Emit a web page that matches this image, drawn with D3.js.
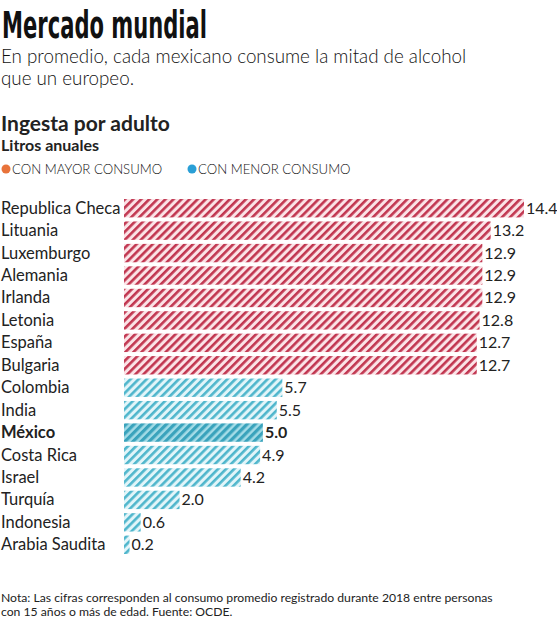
<!DOCTYPE html>
<html>
<head>
<meta charset="utf-8">
<script src="https://cdn.jsdelivr.net/npm/d3@7"></script>
<style>
  body { margin: 0; background: #fff; }
  text { font-family: Lato, "Open Sans", sans-serif; fill: #222; }
</style>
</head>
<body>
<svg width="557" height="620"></svg>
<script>
// data
const countries = ["Republica Checa", "Lituania", "Luxemburgo", "Alemania", "Irlanda", "Letonia", "España", "Bulgaria",
  "Colombia", "India", "México", "Costa Rica", "Israel", "Turquía", "Indonesia", "Arabia Saudita"];
const litros = [14.4, 13.2, 12.9, 12.9, 12.9, 12.8, 12.7, 12.7, 5.7, 5.5, 5.0, 4.9, 4.2, 2.0, 0.6, 0.2];
const grupo = ["mayor", "mayor", "mayor", "mayor", "mayor", "mayor", "mayor", "mayor",
  "menor", "menor", "menor", "menor", "menor", "menor", "menor", "menor"];
const legendLabels = ["CON MAYOR CONSUMO", "CON MENOR CONSUMO"];

const data = countries.map((c, i) => ({ name: c, value: litros[i], group: grupo[i] }));

const svg = d3.select("svg");

// hatch patterns
const defs = svg.append("defs");
function hatch(id, bg, fg, size, w) {
  const p = defs.append("pattern")
    .attr("id", id)
    .attr("patternUnits", "userSpaceOnUse")
    .attr("width", size)
    .attr("height", size)
    .attr("patternTransform", "rotate(45)");
  p.append("rect").attr("width", size).attr("height", size).attr("fill", bg);
  p.append("rect").attr("width", w).attr("height", size).attr("fill", fg);
}
hatch("hRed", "#fbe3e7", "#c13650", 5.7, 2.6);
hatch("hBlue", "#e2f5f9", "#4fb6cc", 5.7, 2.6);
hatch("hMex", "#a4dce7", "#3aa3bc", 5.7, 3.2);

// titles
svg.append("text")
  .attr("x", 2).attr("y", 38)
  .attr("textLength", 205).attr("lengthAdjust", "spacingAndGlyphs")
  .style("font-family", "'Liberation Sans Narrow', 'DejaVu Sans Condensed', sans-serif")
  .style("font-size", "37px")
  .style("font-weight", "bold")
  .style("fill", "#111")
  .text("Mercado mundial");

svg.append("text").attr("x", 1).attr("y", 63)
  .style("font-size", "18.8px").style("font-weight", 300).style("fill", "#111")
  .text("En promedio, cada mexicano consume la mitad de alcohol");
svg.append("text").attr("x", 1).attr("y", 85)
  .style("font-size", "18.8px").style("font-weight", 300).style("fill", "#111")
  .text("que un europeo.");

svg.append("text").attr("x", 1).attr("y", 131)
  .style("font-size", "21px").style("font-weight", "bold")
  .text("Ingesta por adulto");
svg.append("text").attr("x", 1).attr("y", 151)
  .style("font-size", "16px").style("font-weight", "bold")
  .text("Litros anuales");

// legend
const legendX = [6, 192];
const legendCol = ["#e8733a", "#2a9fd6"];
legendLabels.forEach((l, i) => {
  svg.append("circle").attr("cx", legendX[i]).attr("cy", 169).attr("r", 4.5).attr("fill", legendCol[i]);
  svg.append("text").attr("x", legendX[i] + 6).attr("y", 174)
    .style("font-size", "13.2px").style("font-weight", 300).style("fill", "#111")
    .text(l);
});

// scales
const x = d3.scaleLinear().domain([0, 14.4]).range([124, 524]);
const y = d3.scaleBand().domain(countries).range([197, 556]).paddingInner(0.18).paddingOuter(0.09);

const rows = svg.append("g").selectAll("g").data(data).enter().append("g");

rows.append("rect")
  .attr("x", x(0))
  .attr("y", d => y(d.name))
  .attr("width", d => x(d.value) - x(0))
  .attr("height", y.bandwidth())
  .attr("fill", d => d.name === "México" ? "url(#hMex)" : d.group === "mayor" ? "url(#hRed)" : "url(#hBlue)");

rows.append("text")
  .attr("x", 1)
  .attr("y", d => y(d.name) + y.bandwidth() / 2 + 5.5)
  .style("font-size", "16.5px")
  .style("font-weight", d => d.name === "México" ? "bold" : "normal")
  .text(d => d.name);

rows.append("text")
  .attr("x", d => x(d.value) + 2)
  .attr("y", d => y(d.name) + y.bandwidth() / 2 + 5.5)
  .style("font-size", "16px")
  .style("font-weight", d => d.name === "México" ? "bold" : "normal")
  .text(d => d.value.toFixed(1));

// footnote
svg.append("text").attr("x", 1).attr("y", 602)
  .style("font-size", "12.2px")
  .text("Nota: Las cifras corresponden al consumo promedio registrado durante 2018 entre personas");
svg.append("text").attr("x", 1).attr("y", 616)
  .style("font-size", "12.2px")
  .text("con 15 años o más de edad. Fuente: OCDE.");
</script>
</body>
</html>
